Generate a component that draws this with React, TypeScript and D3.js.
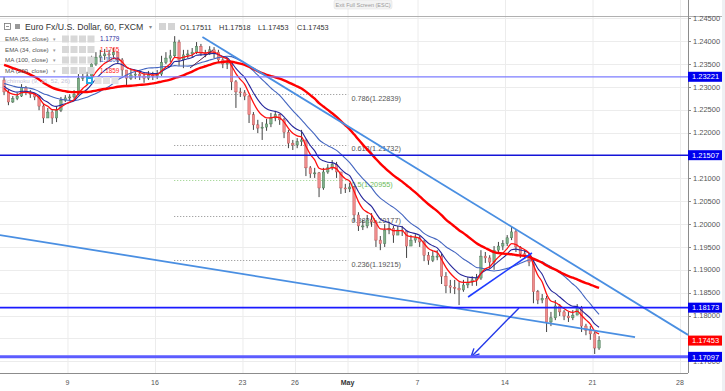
import React from "react";
import * as d3 from "d3";

const W = 725;
const H = 391;

// 6-hour bars (4 per trading day). Bars before the visible range, used only for the averages.
const warmupCloses = [
  1.2370, 1.2380, 1.2390, 1.2400, 1.2395, 1.2405, 1.2420, 1.2440, 1.2455, 1.2460, 1.2430,
  1.2400, 1.2370, 1.2350, 1.2335, 1.2325, 1.2305, 1.2315, 1.2320, 1.2325, 1.2310, 1.2300,
  1.2305, 1.2320, 1.2330, 1.2315, 1.2300, 1.2295, 1.2305, 1.2310, 1.2300, 1.2290, 1.2300,
];
const firstOpen = 1.2315;
const closes = [
  1.2289, 1.2267, 1.2274, 1.2280, 1.2298, 1.2289, 1.2284, 1.2278, 1.2258, 1.2232,
  1.2245, 1.2232, 1.2249, 1.2271, 1.2276, 1.2278, 1.2284, 1.2319, 1.2322, 1.2324,
  1.2350, 1.2365, 1.2368, 1.2372, 1.2370, 1.2376, 1.2359, 1.2337, 1.2319, 1.2326,
  1.2328, 1.2324, 1.2319, 1.2326, 1.2324, 1.2328, 1.2354, 1.2363, 1.2368, 1.2398,
  1.2359, 1.2370, 1.2372, 1.2376, 1.2389, 1.2374, 1.2372, 1.2381, 1.2376, 1.2359,
  1.2350, 1.2352, 1.2311, 1.2289, 1.2287, 1.2280, 1.2239, 1.2217, 1.2210, 1.2212,
  1.2219, 1.2232, 1.2239, 1.2228, 1.2201, 1.2177, 1.2173, 1.2180, 1.2184, 1.2123,
  1.2110, 1.2112, 1.2079, 1.2114, 1.2123, 1.2131, 1.2114, 1.2079, 1.2077, 1.2081,
  1.2020, 1.1996, 1.1996, 1.2009, 1.2005, 1.1965, 1.1957, 1.1987, 1.1991, 1.1976,
  1.1987, 1.1985, 1.1952, 1.1965, 1.1970, 1.1961, 1.1932, 1.1921, 1.1930, 1.1930,
  1.1886, 1.1865, 1.1862, 1.1860, 1.1856, 1.1867, 1.1873, 1.1878, 1.1882, 1.1930,
  1.1926, 1.1917, 1.1943, 1.1952, 1.1957, 1.1970, 1.1983, 1.1950, 1.1935, 1.1932,
  1.1917, 1.1852, 1.1834, 1.1838, 1.1786, 1.1795, 1.1821, 1.1808, 1.1799, 1.1795,
  1.1801, 1.1817, 1.1777, 1.1768, 1.1760, 1.1729, 1.17453,
];
const highs = [
  1.2322, 1.2293, 1.2280, 1.2287, 1.2306, 1.2302, 1.2293, 1.2287, 1.2280, 1.2263,
  1.2254, 1.2249, 1.2258, 1.2278, 1.2282, 1.2284, 1.2293, 1.2328, 1.2330, 1.2333,
  1.2368, 1.2376, 1.2381, 1.2383, 1.2381, 1.2385, 1.2372, 1.2363, 1.2337, 1.2337,
  1.2337, 1.2335, 1.2330, 1.2335, 1.2333, 1.2337, 1.2368, 1.2376, 1.2381, 1.2411,
  1.2403, 1.2381, 1.2381, 1.2385, 1.2398, 1.2394, 1.2381, 1.2389, 1.2387, 1.2381,
  1.2363, 1.2363, 1.2354, 1.2315, 1.2298, 1.2293, 1.2282, 1.2245, 1.2228, 1.2223,
  1.2230, 1.2243, 1.2247, 1.2241, 1.2232, 1.2206, 1.2184, 1.2188, 1.2206, 1.2184,
  1.2127, 1.2123, 1.2114, 1.2123, 1.2131, 1.2140, 1.2136, 1.2114, 1.2088, 1.2090,
  1.2083, 1.2026, 1.2009, 1.2020, 1.2024, 1.2009, 1.1974, 1.2000, 1.2005, 1.1996,
  1.1996, 1.1996, 1.1983, 1.1976, 1.1978, 1.1974, 1.1965, 1.1939, 1.1941, 1.1943,
  1.1935, 1.1895, 1.1878, 1.1878, 1.1873, 1.1878, 1.1884, 1.1886, 1.1891, 1.1943,
  1.1939, 1.1932, 1.1952, 1.1961, 1.1965, 1.1976, 1.1994, 1.1989, 1.1952, 1.1943,
  1.1937, 1.1921, 1.1856, 1.1847, 1.1843, 1.1808, 1.1834, 1.1825, 1.1812, 1.1808,
  1.1812, 1.1825, 1.1821, 1.1782, 1.1777, 1.1764, 1.1755,
];
const lows = [
  1.2282, 1.2260, 1.2265, 1.2271, 1.2278, 1.2282, 1.2276, 1.2271, 1.2249, 1.2221,
  1.2232, 1.2219, 1.2223, 1.2245, 1.2267, 1.2269, 1.2274, 1.2282, 1.2313, 1.2315,
  1.2322, 1.2346, 1.2354, 1.2359, 1.2359, 1.2363, 1.2350, 1.2324, 1.2302, 1.2315,
  1.2317, 1.2315, 1.2309, 1.2315, 1.2315, 1.2317, 1.2324, 1.2350, 1.2354, 1.2363,
  1.2346, 1.2341, 1.2363, 1.2365, 1.2372, 1.2368, 1.2365, 1.2370, 1.2363, 1.2352,
  1.2341, 1.2339, 1.2293, 1.2254, 1.2278, 1.2271, 1.2221, 1.2206, 1.2199, 1.2184,
  1.2204, 1.2212, 1.2225, 1.2217, 1.2188, 1.2166, 1.2162, 1.2166, 1.2171, 1.2105,
  1.2101, 1.2101, 1.2059, 1.2075, 1.2110, 1.2118, 1.2101, 1.2066, 1.2068, 1.2070,
  1.2005, 1.1985, 1.1987, 1.1991, 1.1994, 1.1950, 1.1943, 1.1950, 1.1978, 1.1959,
  1.1976, 1.1974, 1.1926, 1.1952, 1.1959, 1.1950, 1.1919, 1.1911, 1.1917, 1.1921,
  1.1869, 1.1849, 1.1849, 1.1847, 1.1823, 1.1852, 1.1860, 1.1865, 1.1865, 1.1878,
  1.1915, 1.1904, 1.1900, 1.1939, 1.1943, 1.1952, 1.1965, 1.1939, 1.1926, 1.1924,
  1.1908, 1.1827, 1.1825, 1.1827, 1.1764, 1.1777, 1.1790, 1.1799, 1.1790, 1.1786,
  1.1790, 1.1803, 1.1764, 1.1757, 1.1747, 1.1716, 1.1725,
];

// Time axis (trading days counted from Mon 9 Apr)
const firstBarDay = -3.625;
const barsPerDay = 4;
const tickDays = [0, 5, 10, 13, 16, 20, 25, 30, 35];
const tickLabels = ["9", "16", "23", "26", "May", "7", "14", "21", "28"];

const yTickValues = [1.17, 1.175, 1.18, 1.185, 1.19, 1.195, 1.2, 1.205, 1.21, 1.215, 1.22, 1.225, 1.23, 1.235, 1.24, 1.245];

const levelPrices = [1.23221, 1.21507, 1.18173, 1.17097];
const levelColors = ["#7d7dff", "#1414d8", "#1a1aff", "#5c5cff"];
const levelWidths = [1.2, 1.6, 1.6, 3];
const lastPrice = 1.17453;

const fibRatios = ["0.786", "0.618", "0.5", "0.382", "0.236"];
const fibPrices = [1.22839, 1.21732, 1.20955, 1.20177, 1.19215];
const fibDayRange = [6.1, 16.05];

// trend lines in (trading day, price)
const trendUpper = [[7.71, 1.24091], [35.46, 1.17577]];
const trendLower = [[-3.86, 1.19761], [32.43, 1.17531]];
const risingLine = [[22.89, 1.18406], [26.54, 1.19368]];
const arrowLine = [[25.8, 1.18167], [23.06, 1.17096]];
const smallLine = [[7.0, 1.23413], [8.31, 1.23807]];

const ohlcText = ["O1.17511", "H1.17518", "L1.17453", "C1.17453"];
const studyNames = ["EMA (55, close)", "EMA (34, close)", "MA (100, close)", "MA (200, close)"];
const studyValues = ["1.1779", "1.1765", "1.1806", "1.1859"];
const studyColors = ["#2a2a9a", "#ff1a1a", "#3f5fbf", "#ff1a1a"];

const FONT = "'Liberation Sans', Arial, sans-serif";

function emaHourly(vals: number[], n: number): number[] {
  const a = 1 - Math.pow(1 - 2 / (n + 1), 6);
  let e = vals[0];
  return vals.map((v) => (e = e + a * (v - e)));
}
function smaHourly(vals: number[], n: number): number[] {
  const w = Math.round(n / 6);
  return vals.map((_, i) => {
    const s = vals.slice(Math.max(0, i - w + 1), i + 1);
    return d3.mean(s) as number;
  });
}

export default function App() {
  const plotRight = 688;
  const plotBottom = 373;
  const x = d3.scaleLinear().domain([-3.857, 35.457]).range([0, plotRight]);
  const y = d3.scaleLinear().domain([1.17, 1.245]).range([361.3, 18.3]);
  const barDay = (i: number) => firstBarDay + i / barsPerDay;

  const all = warmupCloses.concat(closes);
  const off = warmupCloses.length;
  const ema34 = emaHourly(all, 34).slice(off);
  const ema55 = emaHourly(all, 55).slice(off);
  const ma100 = smaHourly(all, 100).slice(off);
  const ma200 = smaHourly(all, 200).slice(off);

  const line = d3
    .line<number>()
    .x((_, i) => x(barDay(i)))
    .y((v) => y(v))
    .curve(d3.curveMonotoneX);

  const seg = (p: number[][]) => ({ x1: x(p[0][0]), y1: y(p[0][1]), x2: x(p[1][0]), y2: y(p[1][1]) });

  const candles = closes.map((c, i) => {
    const o = i === 0 ? firstOpen : closes[i - 1];
    const hi = Math.max(highs[i], o, c);
    const lo = Math.min(lows[i], o, c);
    return { o, c, hi, lo, cx: x(barDay(i)) };
  });

  const arrow = seg(arrowLine);
  const ang = Math.atan2(arrow.y2 - arrow.y1, arrow.x2 - arrow.x1);
  const ah = 9;
  const a1 = { x: arrow.x2 - ah * Math.cos(ang - 0.45), y: arrow.y2 - ah * Math.sin(ang - 0.45) };
  const a2 = { x: arrow.x2 - ah * Math.cos(ang + 0.45), y: arrow.y2 - ah * Math.sin(ang + 0.45) };

  const fmt = d3.format(".5f");

  return (
    <svg width={W} height={H} style={{ position: "absolute", left: 0, top: 0, background: "#fff" }} fontFamily={FONT}>
      <defs>
        <clipPath id="plot">
          <rect x={0} y={16} width={plotRight} height={plotBottom - 16} />
        </clipPath>
      </defs>
      <rect x={0} y={0} width={W} height={H} fill="#fff" />
      <rect x={722} y={0} width={3} height={H} fill="#eef0f3" />

      {/* grid */}
      {tickDays.map((d, i) => (
        <line key={"vg" + i} x1={x(d) + 0.5} x2={x(d) + 0.5} y1={0} y2={plotBottom} stroke="#ececec" strokeWidth={1} />
      ))}
      {yTickValues.map((v, i) => (
        <line key={"hg" + i} x1={0} x2={plotRight} y1={Math.round(y(v)) + 0.5} y2={Math.round(y(v)) + 0.5} stroke="#ececec" strokeWidth={1} />
      ))}
      <line x1={0} x2={722} y1={16.5} y2={16.5} stroke="#b0b0b0" strokeWidth={1} />

      {/* exit full screen hint */}
      <rect x={334} y={0} width={58} height={9} rx={2} fill="#f3f3f3" stroke="#dddddd" strokeWidth={0.5} />
      <text x={363} y={6.5} fontSize={5.5} fill="#9a9a9a" textAnchor="middle">Exit Full Screen (ESC)</text>

      <g clipPath="url(#plot)">
        {/* fibonacci */}
        {fibPrices.map((p, i) => (
          <g key={"fib" + i}>
            <line
              x1={x(fibDayRange[0])}
              x2={x(fibDayRange[1])}
              y1={Math.round(y(p)) + 0.5}
              y2={Math.round(y(p)) + 0.5}
              stroke={fibRatios[i] === "0.5" ? "#8fce7f" : "#8a8a8a"}
              strokeWidth={1}
              strokeDasharray="1,2"
            />
            <text x={x(fibDayRange[1]) + 3} y={y(p) + 6.5} fontSize={7.3} fill={fibRatios[i] === "0.5" ? "#6dbb5a" : "#555"}>
              {fibRatios[i] + "(" + fmt(p) + ")"}
            </text>
          </g>
        ))}

        {/* candles */}
        {candles.map((k, i) => {
          const up = k.c >= k.o;
          const top = y(Math.max(k.o, k.c));
          const bot = y(Math.min(k.o, k.c));
          return (
            <g key={"c" + i}>
              <line x1={k.cx} x2={k.cx} y1={y(k.hi)} y2={y(k.lo)} stroke="#2b2b2b" strokeWidth={0.9} />
              <rect
                x={k.cx - 1.2}
                y={top}
                width={2.4}
                height={Math.max(1, bot - top)}
                fill={up ? "#7fb08a" : "#f08c8c"}
                stroke={up ? "#3e6b48" : "#b04848"}
                strokeWidth={0.4}
              />
            </g>
          );
        })}

        {/* moving averages */}
        <path d={line(ma100) || ""} fill="none" stroke="#4466c0" strokeWidth={1.1} />
        <path d={line(ema55) || ""} fill="none" stroke="#26269a" strokeWidth={1.1} />
        <path d={line(ema34) || ""} fill="none" stroke="#ff1010" strokeWidth={1.3} />
        <path d={line(ma200) || ""} fill="none" stroke="#ff0000" strokeWidth={2.4} />

        {/* drawings */}
        <line {...seg(trendUpper)} stroke="#4a8fe2" strokeWidth={1.8} />
        <line {...seg(trendLower)} stroke="#4a8fe2" strokeWidth={1.8} />
        <line {...seg(risingLine)} stroke="#1f3cff" strokeWidth={1.6} />
        <line {...seg(smallLine)} stroke="#5a1f4a" strokeWidth={1} />
        <line x1={arrow.x1} y1={arrow.y1} x2={arrow.x2} y2={arrow.y2} stroke="#2338e8" strokeWidth={1.4} />
        <polyline points={`${a1.x},${a1.y} ${arrow.x2},${arrow.y2} ${a2.x},${a2.y}`} fill="none" stroke="#2338e8" strokeWidth={1.4} />

        {/* horizontal levels */}
        {levelPrices.map((p, i) => (
          <line key={"lv" + i} x1={0} x2={plotRight} y1={y(p)} y2={y(p)} stroke={levelColors[i]} strokeWidth={levelWidths[i]} />
        ))}
      </g>

      {/* axes */}
      <line x1={plotRight + 0.5} x2={plotRight + 0.5} y1={0} y2={plotBottom} stroke="#8c8c8c" strokeWidth={1} />
      <line x1={0} x2={plotRight} y1={plotBottom + 0.5} y2={plotBottom + 0.5} stroke="#8c8c8c" strokeWidth={1} />
      {yTickValues.map((v, i) => (
        <g key={"yt" + i}>
          <line x1={plotRight} x2={plotRight + 3} y1={Math.round(y(v)) + 0.5} y2={Math.round(y(v)) + 0.5} stroke="#8c8c8c" />
          <text x={plotRight + 5} y={y(v) + 2.6} fontSize={7.5} fill="#555">{fmt(v)}</text>
        </g>
      ))}
      {tickDays.map((d, i) => (
        <text key={"xt" + i} x={x(d)} y={plotBottom + 12} fontSize={7} fill={tickLabels[i] === "May" ? "#333" : "#555"} textAnchor="middle" fontWeight={tickLabels[i] === "May" ? "bold" : "normal"}>
          {tickLabels[i]}
        </text>
      ))}

      {/* price labels */}
      {levelPrices.map((p, i) => (
        <g key={"pl" + i}>
          <rect x={plotRight} y={y(p) - 5} width={34} height={10} fill="#0000ee" />
          <text x={plotRight + 4} y={y(p) + 2.7} fontSize={7.5} fill="#fff">{fmt(p)}</text>
        </g>
      ))}
      <rect x={plotRight} y={y(lastPrice) - 5} width={34} height={10} fill="#ff0000" />
      <text x={plotRight + 4} y={y(lastPrice) + 2.7} fontSize={7.5} fill="#fff">{fmt(lastPrice)}</text>

      {/* legend */}
      <g>
        <rect x={4.5} y={23.5} width={6} height={6} fill="none" stroke="#777" strokeWidth={0.8} />
        <line x1={6} x2={9} y1={26.5} y2={26.5} stroke="#777" strokeWidth={0.8} />
        <rect x={15} y={24} width={5} height={5} fill="#999" />
        <text x={25} y={30} fontSize={8.7} fill="#333">Euro Fx/U.S. Dollar, 60, FXCM</text>
        <text x={149} y={29} fontSize={6} fill="#888">▾</text>
        <rect x={159} y={23} width={7} height={7} fill="#d4d4d4" />
        <rect x={168} y={23} width={7} height={7} fill="#d4d4d4" />
        {ohlcText.map((t, i) => (
          <text key={"o" + i} x={180 + i * 39} y={30} fontSize={7.3} fill="#333">{t}</text>
        ))}
        {studyNames.map((n, i) => {
          const yy = 41 + i * 10.5;
          return (
            <g key={"st" + i}>
              <text x={5} y={yy} fontSize={6.2} fill="#555">{n}</text>
              <text x={53} y={yy} fontSize={5} fill="#999">▾</text>
              {[0, 1, 2, 3].map((j) => (
                <rect key={j} x={62 + j * 8.5} y={yy - 5.5} width={7} height={7} fill="#d8d8d8" />
              ))}
              <text x={100} y={yy} fontSize={6.3} fill={studyColors[i]}>{n ? studyValues[i] : ""}</text>
            </g>
          );
        })}
        <text x={5} y={83} fontSize={6.2} fill="#c4c4d8">Ichimoku (9, 26, 52, 26)</text>
        <rect x={86} y={77} width={7} height={7} fill="#29a8e0" />
        <rect x={88} y={79} width={3} height={3} fill="#fff" />
        {[1, 2, 3].map((j) => (
          <rect key={"ic" + j} x={86 + j * 8.5} y={77} width={7} height={7} fill="#e2e2e2" />
        ))}
      </g>
    </svg>
  );
}
